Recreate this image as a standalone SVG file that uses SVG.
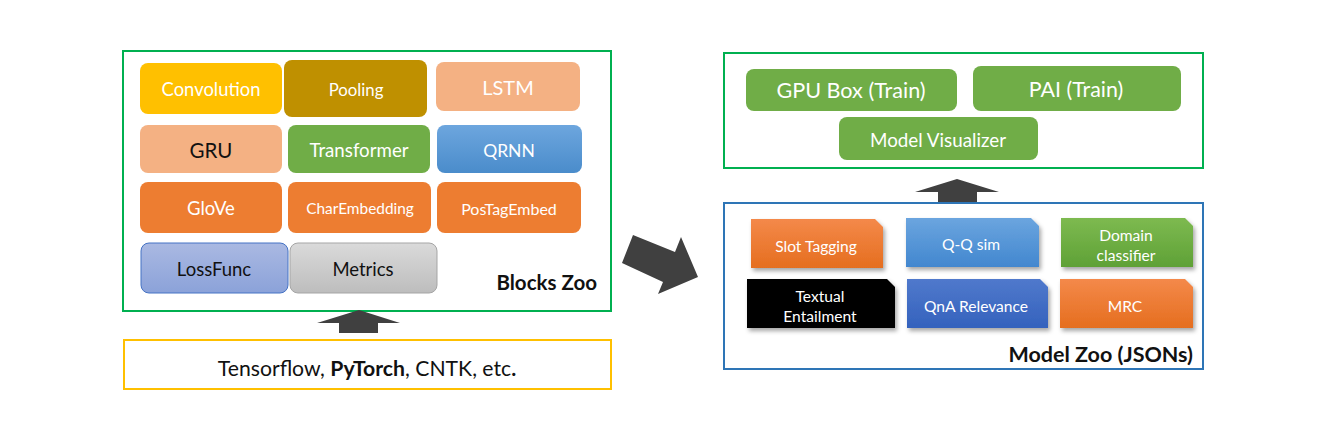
<svg xmlns="http://www.w3.org/2000/svg" width="1327" height="430" viewBox="0 0 1327 430">
<defs>
<linearGradient id="gBlue" x1="0" y1="0" x2="0" y2="1"><stop offset="0" stop-color="#6DA6DE"/><stop offset="1" stop-color="#4A8CCB"/></linearGradient>
<linearGradient id="gLoss" x1="0" y1="0" x2="0" y2="1"><stop offset="0" stop-color="#AAB9E2"/><stop offset="1" stop-color="#8BA2D9"/></linearGradient>
<linearGradient id="gGray" x1="0" y1="0" x2="0" y2="1"><stop offset="0" stop-color="#DADADA"/><stop offset="1" stop-color="#BDBDBD"/></linearGradient>
<linearGradient id="gOrange" x1="0" y1="0" x2="0" y2="1"><stop offset="0" stop-color="#F4894A"/><stop offset="1" stop-color="#E56E1F"/></linearGradient>
<linearGradient id="gCBlue" x1="0" y1="0" x2="0" y2="1"><stop offset="0" stop-color="#6BA5DF"/><stop offset="1" stop-color="#4287CF"/></linearGradient>
<linearGradient id="gGreen" x1="0" y1="0" x2="0" y2="1"><stop offset="0" stop-color="#7DBA50"/><stop offset="1" stop-color="#5FA136"/></linearGradient>
<linearGradient id="gQnA" x1="0" y1="0" x2="0" y2="1"><stop offset="0" stop-color="#5079CC"/><stop offset="1" stop-color="#3462BD"/></linearGradient>
<filter id="sh" x="-10%" y="-10%" width="125%" height="135%"><feDropShadow dx="2" dy="3" stdDeviation="2" flood-color="#000" flood-opacity="0.35"/></filter>
</defs>
<style>
text{font-family:Lato,"Open Sans","Liberation Sans",sans-serif;text-anchor:middle;dominant-baseline:central}
.w{fill:#fff}
.k{fill:#111}
.blk{rx:8;ry:8}
.frameG{fill:#fff;stroke:#00B050;stroke-width:2}
.arrow{fill:#404040}
.card{font-size:15.6px}
</style>
<rect width="1327" height="430" fill="#fff"/>

<g id="blocks-zoo">
<rect class="frameG" x="123" y="51" width="488" height="260"/>
<text x="597" y="282" class="k" style="font-size:20.5px;font-weight:bold;text-anchor:end">Blocks Zoo</text>
</g>
<g id="convolution"><rect class="blk" x="140" y="63" width="142" height="51" fill="#FFC000"/><text class="w" x="211" y="89" font-size="18.4">Convolution</text></g>
<g id="pooling"><rect class="blk" x="284" y="60" width="143" height="57" fill="#BF9000"/><text class="w" x="356" y="89" font-size="16.8">Pooling</text></g>
<g id="lstm"><rect class="blk" x="436" y="62" width="144" height="49" fill="#F4B183"/><text class="w" x="508" y="87" font-size="20">LSTM</text></g>
<g id="gru"><rect class="blk" x="140" y="125" width="142" height="48" fill="#F4B183"/><text class="k" x="211" y="150" font-size="20.5">GRU</text></g>
<g id="transformer"><rect class="blk" x="288" y="125" width="142" height="48" fill="#70AD47"/><text class="w" x="359" y="150" font-size="18.7">Transformer</text></g>
<g id="qrnn"><rect class="blk" x="437" y="125" width="145" height="48" fill="url(#gBlue)"/><text class="w" x="509" y="150" font-size="17.5">QRNN</text></g>
<g id="glove"><rect class="blk" x="140" y="182" width="142" height="51" fill="#ED7D31"/><text class="w" x="211" y="208" font-size="18.5">GloVe</text></g>
<g id="charembedding"><rect class="blk" x="288" y="182" width="143" height="51" fill="#ED7D31"/><text class="w" x="360" y="208" font-size="15.4">CharEmbedding</text></g>
<g id="postagembed"><rect class="blk" x="437" y="182" width="144" height="51" fill="#ED7D31"/><text class="w" x="509" y="208" font-size="16">PosTagEmbed</text></g>
<g id="lossfunc"><rect class="blk" x="141" y="243" width="147" height="50" fill="url(#gLoss)" stroke="#4472C4" stroke-width="1"/><text class="k" x="214" y="269" font-size="18.5">LossFunc</text></g>
<g id="metrics"><rect class="blk" x="290" y="243" width="147" height="50" fill="url(#gGray)" stroke="#A5A5A5" stroke-width="1"/><text class="k" x="363" y="269" font-size="18.5">Metrics</text></g>

<g id="frameworks">
<rect x="124" y="340" width="487" height="49" fill="#fff" stroke="#FFC000" stroke-width="2"/>
<text class="k" x="367" y="368" font-size="21.2">Tensorflow, <tspan font-weight="bold">PyTorch</tspan>, CNTK, etc<tspan font-weight="bold">.</tspan></text>
</g>

<g id="training">
<rect class="frameG" x="724" y="53" width="479" height="115"/>
</g>
<g id="gpu-box"><rect class="blk" x="746" y="69" width="211" height="42" fill="#70AD47"/><text class="w" x="851" y="90" font-size="21.6">GPU Box (Train)</text></g>
<g id="pai"><rect class="blk" x="973" y="66" width="208" height="45" fill="#70AD47"/><text class="w" x="1076" y="89" font-size="21.4">PAI (Train)</text></g>
<g id="model-visualizer"><rect class="blk" x="839" y="117" width="199" height="43" fill="#70AD47"/><text class="w" x="938" y="139" font-size="18.8">Model Visualizer</text></g>

<g id="model-zoo">
<rect x="724" y="203" width="479" height="166" fill="#fff" stroke="#2E75B6" stroke-width="2"/>
<text x="1193" y="354" class="k" style="font-size:21.5px;font-weight:bold;text-anchor:end">Model Zoo (JSONs)</text>
</g>
<g id="slot-tagging"><path d="M751 219H875L883 227V268H751Z" fill="url(#gOrange)" filter="url(#sh)"/><text class="w card" x="816" y="246">Slot Tagging</text></g>
<g id="qq-sim"><path d="M906 218H1031L1039 226V267H906Z" fill="url(#gCBlue)" filter="url(#sh)"/><text class="w card" x="971" y="244">Q-Q sim</text></g>
<g id="domain-classifier"><path d="M1061 218H1185L1193 226V267H1061Z" fill="url(#gGreen)" filter="url(#sh)"/><text class="w card" x="1126" y="235">Domain</text><text class="w card" x="1126" y="255">classifier</text></g>
<g id="textual-entailment"><path d="M747 279H887L895 287V328H747Z" fill="#000" filter="url(#sh)"/><text class="w card" x="820" y="296">Textual</text><text class="w card" x="820" y="316">Entailment</text></g>
<g id="qna-relevance"><path d="M907 279H1040L1048 287V328H907Z" fill="url(#gQnA)" filter="url(#sh)"/><text class="w card" x="976" y="306">QnA Relevance</text></g>
<g id="mrc"><path d="M1060 279H1185L1193 287V328H1060Z" fill="url(#gOrange)" filter="url(#sh)"/><text class="w card" x="1125" y="306">MRC</text></g>

<g id="connectors">
<polygon class="arrow" points="359,310 400,323 378,323 378,333 339,333 339,323 317,323"/>
<polygon class="arrow" points="957,179 999,192 977,192 977,202 938,202 938,192 915,192"/>
<polygon class="arrow" points="633,235 675,252 681,237 698,277 658,294 663,282 622,263"/>
</g>
</svg>
